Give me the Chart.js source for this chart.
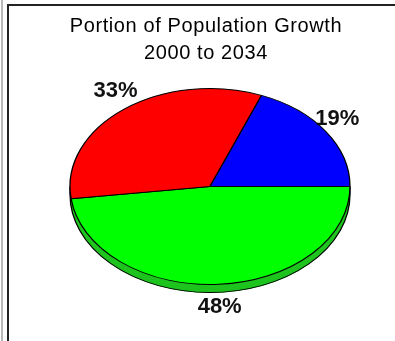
<!DOCTYPE html>
<html>
<head>
<meta charset="utf-8">
<title>Portion of Population Growth</title>
<script src="https://cdn.jsdelivr.net/npm/chart.js"></script>
<style>
  html, body { margin: 0; padding: 0; background: #ffffff; }
  #wrap { position: relative; width: 395px; height: 341px; overflow: hidden; }
  #grey { position: absolute; left: 1px; top: 0; width: 2px; height: 341px; background: #b8b8b8; }
  #frame { position: absolute; left: 7px; top: 4px; right: -4px; bottom: -4px; border-left: 2px solid #222; border-top: 2px solid #222; }
  canvas { position: absolute; left: 0; top: 0; }
</style>
</head>
<body>
<div id="wrap">
  <div id="grey"></div>
  <div id="frame"></div>
  <canvas id="pie" width="395" height="341"></canvas>
</div>
<script>
// slices go clockwise from the right-hand side
const categories = ['Segment 1', 'Segment 2', 'Segment 3'];
const shares = [48, 33, 19];
const titleLines = ['Portion of Population Growth', '2000 to 2034'];

const faceColors = ['#00ff00', '#ff0000', '#0000ff'];
const sideColors = ['#1fc41f', '#c40000', '#0000b0'];
const squash = 0.7;   // ellipse height / width
const depth = 8;      // thickness in screen px
const shiftX = 4;     // pie sits a little right of the title

// flatten the pie into an ellipse and give it a bit of thickness
const tiltPlugin = {
  id: 'tilt',
  beforeDraw(chart) {
    chart.ctx.letterSpacing = '0.6px';   // title is drawn before the datasets
  },
  beforeDatasetsDraw(chart) {
    const ctx = chart.ctx;
    ctx.letterSpacing = '0px';
    const arcs = chart.getDatasetMeta(0).data;
    const cx = arcs[0].x, cy = arcs[0].y, r = arcs[0].outerRadius;
    ctx.save();
    ctx.translate(cx + shiftX, cy);
    ctx.scale(1, squash);
    ctx.translate(-cx, -cy);
    const d = depth / squash;
    for (let i = Math.ceil(d); i >= 1; i--) {
      arcs.forEach((arc, j) => {
        ctx.beginPath();
        ctx.moveTo(cx, cy + i);
        ctx.arc(cx, cy + i, r, arc.startAngle, arc.endAngle);
        ctx.closePath();
        ctx.fillStyle = sideColors[j];
        ctx.fill();
      });
    }
    ctx.beginPath();
    ctx.arc(cx, cy + d, r, 0, Math.PI);
    ctx.moveTo(cx - r, cy);
    ctx.lineTo(cx - r, cy + d);
    ctx.moveTo(cx + r, cy);
    ctx.lineTo(cx + r, cy + d);
    ctx.lineWidth = 1.3;
    ctx.strokeStyle = '#000';
    ctx.stroke();
  },
  afterDatasetsDraw(chart) {
    const ctx = chart.ctx;
    ctx.restore();
    const arcs = chart.getDatasetMeta(0).data;
    ctx.save();
    ctx.font = 'bold 22px "Liberation Sans", Arial, sans-serif';
    ctx.fillStyle = '#111';
    ctx.textAlign = 'center';
    ctx.textBaseline = 'middle';
    arcs.forEach((arc, j) => {
      const mid = (arc.startAngle + arc.endAngle) / 2;
      const x = arc.x + shiftX + (arc.outerRadius + 14) * Math.cos(mid);
      const y = arc.y + (arc.outerRadius * squash + 23) * Math.sin(mid);
      ctx.fillText(shares[j] + '%', x, y);
    });
    ctx.restore();
  }
};

new Chart(document.getElementById('pie'), {
  type: 'pie',
  data: {
    labels: categories,
    datasets: [{
      data: shares,
      backgroundColor: faceColors,
      borderColor: '#000',
      borderWidth: 1.3,
      radius: 140
    }]
  },
  options: {
    responsive: false,
    animation: false,
    rotation: 90,
    layout: { padding: { left: 17, right: 0, top: 0, bottom: 35 } },
    plugins: {
      legend: { display: false },
      tooltip: { enabled: false },
      title: {
        display: true,
        text: titleLines,
        color: '#000',
        font: { family: '"Liberation Sans", Arial, sans-serif', size: 20, weight: 'normal', lineHeight: 1.35 },
        padding: { top: 13, bottom: 0 }
      }
    }
  },
  plugins: [tiltPlugin]
});
</script>
</body>
</html>
